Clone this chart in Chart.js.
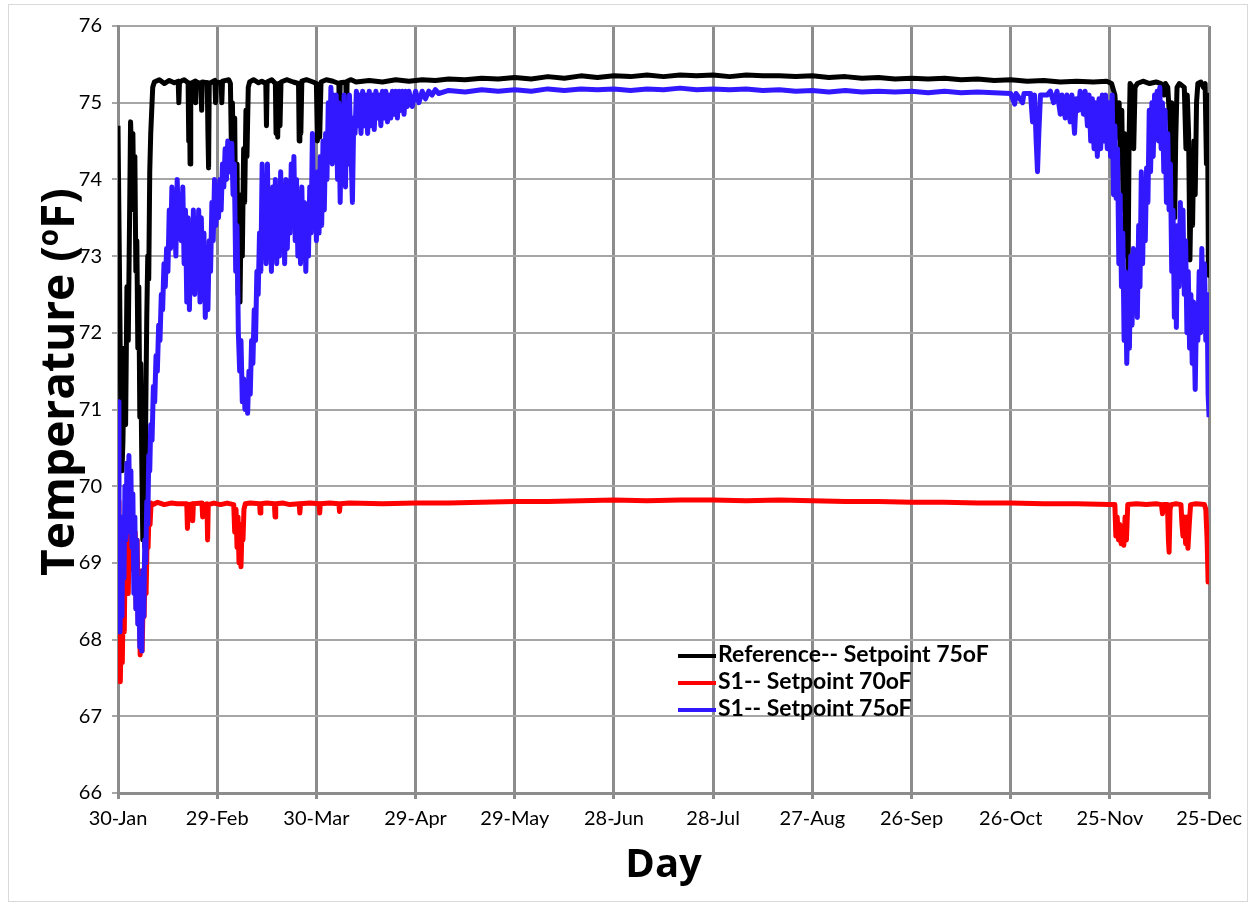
<!DOCTYPE html>
<html lang="en">
<head>
  <meta charset="UTF-8">
  <title>Temperature by Day</title>
  <script src="https://cdn.jsdelivr.net/npm/chart.js"></script>
  <style>
    body {
      margin: 0;
      padding: 0;
      background: #fff;
    }
    #wrap {
      position: relative;
      width: 1250px;
      height: 905px;
    }
    #frame {
      position: absolute;
      left: 8px;
      top: 4px;
      width: 1240px;
      height: 898px;
      border: 1px solid #d9d9d9;
      box-sizing: border-box;
      pointer-events: none;
    }
    #yTitle {
      position: absolute;
      left: 56px;
      top: 382px;
      transform: translate(-50%, -50%) rotate(-90deg);
      white-space: nowrap;
      font: bold 46px "Open Sans", sans-serif;
      color: #000;
    }
    #yTitle sup {
      font-size: 28px;
      vertical-align: 16px;
    }
    #legend {
      position: absolute;
      left: 678px;
      top: 640px;
      font: bold 23px Lato, sans-serif;
      color: #000;
    }
    #legend div {
      height: 27px;
      line-height: 27px;
      white-space: nowrap;
    }
    #legend span {
      display: inline-block;
      width: 38px;
      height: 4px;
      vertical-align: middle;
      margin-right: 2px;
    }
  </style>
</head>
<body>
  <div id="wrap">
    <canvas id="tempChart" width="1250" height="905"></canvas>
    <div id="frame"></div>
    <div id="yTitle">Temperature (<sup>o</sup>F)</div>
    <div id="legend"></div>
  </div>
  <script>
    // x axis: days after 30-Jan, gridline every 30 days
    const dayTicks = [0, 30, 60, 90, 120, 150, 180, 210, 240, 270, 300, 330];
    const dayLabels = ['30-Jan', '29-Feb', '30-Mar', '29-Apr', '29-May', '28-Jun',
                       '28-Jul', '27-Aug', '26-Sep', '26-Oct', '25-Nov', '25-Dec'];
    const seriesLabels = ['Reference-- Setpoint 75oF', 'S1-- Setpoint 70oF', 'S1-- Setpoint 75oF'];
    const seriesColors = ['#000000', '#ff0000', '#3218ff'];

    // [day, temperature oF]
    const refData = [
      [0,74.7],[0.4,73.0],[0.8,71.2],[1.2,70.2],[1.5,70.6],[1.9,71.8],[2.3,70.8],[2.7,72.6],[3.1,71.9],[3.5,73.5],
      [3.8,74.75],[4.2,74.2],[4.5,74.6],[4.8,73.6],[5.1,74.3],[5.4,72.8],[5.7,73.2],[6.0,71.8],[6.3,72.6],[6.6,70.9],
      [6.9,71.6],[7.2,70.3],[7.5,69.3],[7.8,70.5],[8.1,69.2],[8.4,71.0],[8.7,72.2],[9.0,73.0],[9.3,72.7],[9.6,74.1],
      [9.9,74.6],[10.2,74.9],[10.5,75.2],[11.0,75.27],[12.5,75.3],[14,75.25],[15.5,75.29],[17,75.26],[18.2,75.28],[18.4,75.0],
      [18.6,75.27],[20,75.3],[21.2,75.26],[21.4,74.5],[21.6,75.2],[21.8,74.2],[22.0,75.25],[23.3,75.28],[23.5,75.0],[23.7,75.27],
      [25.1,75.25],[25.3,74.9],[25.5,75.27],[27.0,75.26],[27.2,74.6],[27.4,74.15],[27.6,75.25],[29.3,75.29],[29.5,75.0],[29.7,75.27],
      [31.2,75.26],[31.4,75.0],[31.6,75.28],[33.5,75.3],[34.0,75.25],[34.3,74.4],[34.6,75.0],[35.0,74.0],[35.3,74.8],[35.6,73.2],
      [36.0,74.2],[36.3,72.5],[36.6,73.6],[36.9,72.4],[37.3,73.8],[37.6,73.0],[38.0,74.4],[38.3,73.7],[38.7,74.9],[39.0,74.3],
      [39.4,75.2],[39.8,75.27],[41,75.3],[42.5,75.26],[43.5,75.28],[44.7,75.25],[44.9,74.7],[45.1,75.27],[46.5,75.3],[47.6,75.25],
      [47.8,74.6],[48.0,75.2],[48.3,74.55],[48.6,75.25],[49.0,74.7],[49.3,75.27],[51,75.3],[53,75.27],[54.6,75.25],[54.8,74.5],
      [55.0,75.2],[55.3,74.6],[55.6,75.28],[57,75.3],[59,75.27],[60.0,75.25],[60.3,74.5],[60.6,75.2],[61.0,74.55],[61.4,75.27],
      [63,75.3],[65,75.28],[66.8,75.25],[67.0,74.75],[67.2,75.26],[68.9,75.27],[69.1,74.8],[69.3,75.28],[70.5,75.3],[72,75.27],
      [76,75.29],[80,75.27],[84,75.3],[88,75.28],[92,75.3],[96,75.29],[100,75.31],[105,75.3],[110,75.32],[115,75.31],
      [120,75.33],[125,75.31],[130,75.34],[135,75.32],[140,75.35],[145,75.33],[150,75.35],[155,75.34],[160,75.36],[165,75.34],
      [170,75.36],[175,75.35],[180,75.36],[185,75.34],[190,75.36],[195,75.35],[200,75.35],[205,75.34],[210,75.35],[215,75.33],
      [220,75.34],[225,75.32],[230,75.33],[235,75.31],[240,75.32],[245,75.31],[250,75.32],[255,75.3],[260,75.31],[265,75.29],
      [270,75.3],[275,75.28],[280,75.29],[285,75.27],[290,75.28],[295,75.27],[299,75.28],[300.5,75.25],[301.5,75.1],[302.3,74.55],
      [302.8,75.0],[303.2,74.2],[303.6,74.9],[304.0,73.6],[304.4,74.6],[304.8,73.0],[305.2,74.0],[305.5,72.8],[305.8,74.5],[306.1,75.25],
      [306.8,75.2],[307.2,74.4],[307.6,75.2],[308.3,75.25],[310,75.28],[312,75.25],[314,75.27],[315.5,75.25],[316.4,75.1],[316.8,75.25],
      [317.5,75.2],[318.3,74.6],[318.7,75.0],[319.0,73.9],[319.3,74.8],[319.6,73.5],[319.9,74.5],[320.3,75.2],[321,75.25],[322.5,75.2],
      [323.0,74.4],[323.4,75.1],[323.8,74.6],[324.2,72.95],[324.6,74.0],[325.0,73.4],[325.4,74.5],[325.8,73.8],[326.2,75.0],[326.6,75.25],
      [327.5,75.27],[328.3,75.2],[328.8,75.25],[329.2,74.2],[329.5,75.1],[329.8,72.75],[330,73.2]
    ];

    const s1Set70Data = [
      [0,69.8],[0.3,68.5],[0.7,67.45],[1.0,68.2],[1.3,67.7],[1.6,68.6],[1.9,68.1],[2.2,69.3],[2.5,68.7],[2.8,69.5],
      [3.1,68.6],[3.4,69.3],[3.7,68.9],[4.0,69.5],[4.3,69.1],[4.6,69.6],[4.9,69.0],[5.2,69.4],[5.5,68.4],[5.8,69.3],
      [6.1,68.2],[6.4,68.9],[6.7,67.8],[7.0,68.4],[7.3,67.85],[7.6,68.5],[7.9,68.3],[8.2,69.0],[8.5,68.6],[8.8,69.3],
      [9.1,69.2],[9.4,69.7],[9.7,69.5],[10.0,69.78],[10.5,69.76],[12,69.79],[14,69.76],[16,69.78],[18,69.77],[20.8,69.77],
      [21.0,69.45],[21.3,69.76],[22.4,69.77],[22.6,69.55],[22.8,69.77],[25.4,69.78],[25.6,69.6],[25.8,69.76],[26.9,69.77],[27.1,69.3],
      [27.3,69.76],[29,69.78],[31,69.76],[33,69.78],[35.0,69.76],[35.3,69.4],[35.7,69.7],[36.0,69.2],[36.3,69.6],[36.6,69.0],
      [36.9,69.5],[37.2,68.95],[37.5,69.45],[37.8,69.3],[38.1,69.7],[38.5,69.77],[40,69.78],[42.8,69.77],[43.0,69.65],[43.2,69.77],
      [45,69.78],[47.3,69.77],[47.5,69.6],[47.7,69.77],[50,69.78],[52,69.76],[54.8,69.77],[55.0,69.65],[55.2,69.77],[58,69.78],
      [60.8,69.77],[61.0,69.65],[61.2,69.77],[64,69.78],[66.8,69.77],[67.0,69.67],[67.2,69.77],[70,69.78],[80,69.77],[90,69.78],
      [100,69.78],[110,69.79],[120,69.8],[130,69.8],[140,69.81],[150,69.82],[160,69.81],[170,69.82],[180,69.82],[190,69.81],
      [200,69.82],[210,69.81],[220,69.8],[230,69.8],[240,69.79],[250,69.79],[260,69.78],[270,69.78],[280,69.77],[290,69.77],
      [300,69.76],[301.5,69.76],[301.8,69.35],[302.2,69.6],[302.6,69.3],[303.0,69.5],[303.4,69.25],[303.8,69.45],[304.2,69.23],[304.6,69.6],
      [305.0,69.3],[305.4,69.76],[308,69.77],[311,69.76],[314,69.77],[315.6,69.76],[315.9,69.64],[316.2,69.76],[317.4,69.76],[317.7,69.3],
      [317.9,69.14],[318.2,69.7],[318.5,69.76],[320,69.77],[321.5,69.76],[321.8,69.5],[322.1,69.35],[322.5,69.6],[322.9,69.25],[323.3,69.6],
      [323.6,69.19],[324.0,69.5],[324.4,69.76],[326,69.77],[328.6,69.76],[329.0,69.7],[329.4,69.3],[329.7,68.75],[330,69.3]
    ];

    const s1Set75Data = [
      [0,71.1],[0.3,69.5],[0.6,68.1],[0.9,69.0],[1.2,68.3],[1.5,69.6],[1.8,68.8],[2.1,70.0],[2.4,69.3],[2.7,70.3],
      [3.0,69.6],[3.3,70.4],[3.6,69.4],[3.9,70.2],[4.2,69.2],[4.5,69.9],[4.8,68.6],[5.1,69.6],[5.4,68.4],[5.7,69.3],
      [6.0,68.2],[6.3,68.8],[6.6,67.9],[6.9,68.6],[7.2,67.85],[7.5,68.9],[7.8,68.3],[8.1,69.3],[8.4,69.0],[8.7,69.8],
      [9.0,69.5],[9.3,70.4],[9.6,70.2],[9.9,70.8],[10.3,70.6],[10.7,71.3],[11.1,71.1],[11.5,71.7],[11.9,71.5],[12.3,72.1],
      [12.7,71.9],[13.1,72.5],[13.5,72.3],[13.9,72.9],[14.3,72.6],[14.7,73.1],[15.1,72.8],[15.5,73.6],[15.9,73.1],[16.3,73.9],
      [16.7,73.2],[17.1,73.6],[17.5,73.0],[17.9,74.0],[18.3,73.4],[18.7,73.8],[19.1,73.2],[19.6,73.9],[20.0,72.9],[20.4,73.6],
      [20.8,72.4],[21.2,73.5],[21.6,72.3],[22.0,73.3],[22.4,72.6],[22.8,73.6],[23.2,72.5],[23.6,73.4],[24.0,72.8],[24.4,73.6],
      [24.8,72.4],[25.2,73.5],[25.6,72.6],[26.0,73.3],[26.4,72.2],[26.8,73.0],[27.2,72.3],[27.6,73.2],[28.0,72.8],[28.4,73.7],
      [28.8,73.2],[29.2,74.0],[29.6,73.4],[30.0,73.9],[30.4,73.5],[30.8,74.0],[31.2,73.6],[31.6,74.2],[32.0,73.9],[32.4,74.4],
      [32.8,74.0],[33.2,74.5],[33.6,74.1],[34.0,74.3],[34.4,74.47],[34.8,73.8],[35.2,74.2],[35.6,72.8],[36.0,73.4],[36.4,72.0],
      [36.8,71.5],[37.2,71.9],[37.6,71.1],[38.0,71.4],[38.4,71.0],[38.8,71.3],[39.2,70.95],[39.6,71.5],[40.0,71.2],[40.4,71.9],
      [40.8,71.6],[41.2,72.3],[41.6,71.9],[42.0,72.8],[42.4,72.5],[42.8,73.3],[43.2,72.8],[43.6,74.2],[44.0,73.0],[44.4,73.6],
      [44.8,72.9],[45.2,74.2],[45.6,73.0],[46.0,73.8],[46.4,72.8],[46.8,73.9],[47.2,73.1],[47.6,74.0],[48.0,72.9],[48.4,73.8],
      [48.8,73.0],[49.2,74.1],[49.6,73.2],[50.0,73.9],[50.4,72.9],[50.8,74.0],[51.2,73.1],[51.6,73.8],[52.0,73.3],[52.4,74.2],
      [52.8,73.4],[53.2,74.3],[53.6,73.2],[54.0,74.0],[54.4,73.0],[54.8,73.8],[55.2,72.9],[55.6,73.9],[56.0,73.0],[56.4,73.7],
      [56.8,72.8],[57.2,73.6],[57.6,73.0],[58.0,73.9],[58.4,73.3],[58.8,74.6],[59.2,73.5],[59.6,74.0],[60.0,73.2],[60.4,74.1],
      [60.8,73.3],[61.2,74.3],[61.6,73.4],[62.0,74.5],[62.4,73.6],[62.8,74.6],[63.2,74.0],[63.6,75.0],[64.0,74.3],[64.4,75.2],
      [64.8,74.2],[65.2,75.1],[65.6,74.4],[66.0,75.1],[66.4,74.0],[66.8,75.0],[67.2,73.7],[67.6,74.9],[68.0,74.2],[68.4,75.1],
      [68.8,73.9],[69.2,75.0],[69.6,74.2],[70.0,75.1],[70.4,74.5],[70.9,73.7],[71.3,74.8],[71.7,74.6],[72.1,75.15],[72.5,74.7],
      [73,75.1],[73.5,74.6],[74,75.15],[74.5,74.7],[75,75.1],[75.5,74.6],[76,75.15],[76.5,74.7],[77,75.1],[77.5,74.65],
      [78,75.15],[78.5,74.8],[79,75.1],[79.5,74.7],[80,75.15],[80.5,74.8],[81,75.15],[81.5,74.75],[82,75.1],[82.5,74.8],
      [83,75.15],[83.5,74.85],[84,75.15],[84.5,74.8],[85,75.15],[85.5,74.9],[86,75.15],[86.5,74.85],[87,75.15],[87.5,74.95],
      [88,75.15],[89,74.95],[90,75.15],[91,75.0],[92,75.15],[93,75.05],[94,75.15],[95,75.1],[96,75.17],[97,75.12],
      [100,75.16],[105,75.14],[110,75.17],[115,75.15],[120,75.17],[125,75.15],[130,75.18],[135,75.16],[140,75.18],[145,75.17],
      [150,75.18],[155,75.16],[160,75.18],[165,75.17],[170,75.19],[175,75.17],[180,75.18],[185,75.17],[190,75.18],[195,75.16],
      [200,75.17],[205,75.15],[210,75.16],[215,75.14],[220,75.16],[225,75.14],[230,75.15],[235,75.14],[240,75.15],[245,75.13],
      [250,75.15],[255,75.13],[260,75.14],[265,75.13],[270,75.12],[271.2,74.98],[271.6,75.12],[273.6,75.0],[274,75.12],[276,75.12],
      [276.6,74.75],[277.2,75.1],[277.7,74.5],[278.1,74.1],[278.5,74.6],[279,75.1],[281,75.1],[282,75.15],[283,75.0],[284,75.15],
      [285,74.85],[285.5,75.1],[286.5,74.8],[287,75.1],[288,74.75],[288.5,75.1],[289.3,74.6],[289.8,75.05],[290.5,74.9],[291,75.15],
      [292,74.85],[292.5,75.15],[293.2,74.7],[293.7,75.1],[294.2,74.5],[294.7,75.05],[295.2,74.4],[295.7,75.0],[296.2,74.3],[296.7,75.05],
      [297.2,74.4],[297.7,75.1],[298.2,74.5],[298.7,75.1],[299.2,74.4],[299.7,75.0],[300.2,74.3],[300.7,75.1],[301.1,73.8],[301.5,74.7],
      [301.9,73.75],[302.3,74.4],[302.7,72.9],[303.1,73.8],[303.5,72.6],[303.9,73.3],[304.3,71.9],[304.7,72.8],[305.1,71.6],[305.5,72.5],
      [305.9,71.8],[306.3,73.0],[306.7,72.1],[307.1,73.1],[307.5,72.3],[307.9,73.0],[308.3,72.2],[308.7,73.4],[309.1,72.6],[309.5,74.1],
      [309.9,72.9],[310.3,74.0],[310.7,73.2],[311.1,74.15],[311.5,73.7],[311.9,74.9],[312.3,74.1],[312.7,75.0],[313.1,74.3],[313.5,75.1],
      [313.9,74.6],[314.3,75.15],[314.7,74.5],[315.1,75.2],[315.5,74.4],[315.9,75.0],[316.3,74.1],[316.7,74.9],[317.1,73.7],[317.5,74.6],
      [317.9,73.6],[318.3,74.2],[318.7,72.8],[319.1,73.6],[319.5,72.2],[319.9,73.0],[320.1,72.07],[320.5,73.4],[320.9,72.6],[321.3,73.7],
      [321.7,72.8],[322.1,73.6],[322.5,72.5],[322.9,73.2],[323.3,72.0],[323.7,72.8],[324.1,71.8],[324.5,72.5],[324.9,71.6],[325.3,72.4],
      [325.8,71.26],[326.2,72.3],[326.6,71.9],[327.0,72.8],[327.4,72.0],[327.8,73.1],[328.2,72.2],[328.6,72.9],[329.0,71.9],[329.4,72.5],
      [329.7,71.2],[330,70.9]
    ];

    const allSeries = [refData, s1Set70Data, s1Set75Data];

    const datasets = allSeries.map((pts, i) => ({
      label: seriesLabels[i],
      data: pts.map(p => ({ x: p[0], y: p[1] })),
      borderColor: seriesColors[i],
      borderWidth: 5,
      borderJoinStyle: 'round',
      pointRadius: 0,
      tension: 0,
      fill: false,
      order: 3 - i   // blue on top, like the reference
    }));

    // Legend lives inside the plot, so build it by hand
    const legendBox = document.getElementById('legend');
    seriesLabels.forEach((label, i) => {
      const row = document.createElement('div');
      row.innerHTML = `<span style="background:${seriesColors[i]}"></span>${label}`;
      legendBox.appendChild(row);
    });

    const ctx = document.getElementById('tempChart').getContext('2d');
    const tempChart = new Chart(ctx, {
      type: 'line',
      data: { datasets: datasets },
      options: {
        responsive: false,
        animation: false,
        devicePixelRatio: 1,
        layout: {
          autoPadding: false,
          padding: { top: 26, right: 35, left: 0, bottom: 0 }
        },
        plugins: {
          legend: { display: false },
          tooltip: { enabled: false }
        },
        scales: {
          x: {
            type: 'linear',
            min: 0,
            max: 330,
            afterBuildTicks: (scale) => { scale.ticks = dayTicks.map(v => ({ value: v })); },
            afterFit: (scale) => { scale.height = 112; },
            ticks: {
              callback: (value) => dayLabels[dayTicks.indexOf(value)],
              font: { family: 'Lato', size: 20 },
              color: '#000',
              padding: 8,
              maxRotation: 0,
              autoSkip: false
            },
            grid: { color: '#8c8c8c', lineWidth: 3, tickLength: 6 },
            border: { color: '#8c8c8c', width: 3 },
            title: {
              display: true,
              text: 'Day',
              font: { family: 'Open Sans', size: 40, weight: 'bold' },
              color: '#000',
              padding: { top: 0, bottom: 15 }
            }
          },
          y: {
            min: 66,
            max: 76,
            afterFit: (scale) => { scale.width = 118; },
            ticks: {
              stepSize: 1,
              font: { family: 'Lato', size: 20 },
              color: '#000',
              padding: 10
            },
            grid: { color: '#a6a6a6', lineWidth: 2, tickLength: 6 },
            border: { color: '#8c8c8c', width: 3 }
          }
        }
      }
    });
  </script>
</body>
</html>
